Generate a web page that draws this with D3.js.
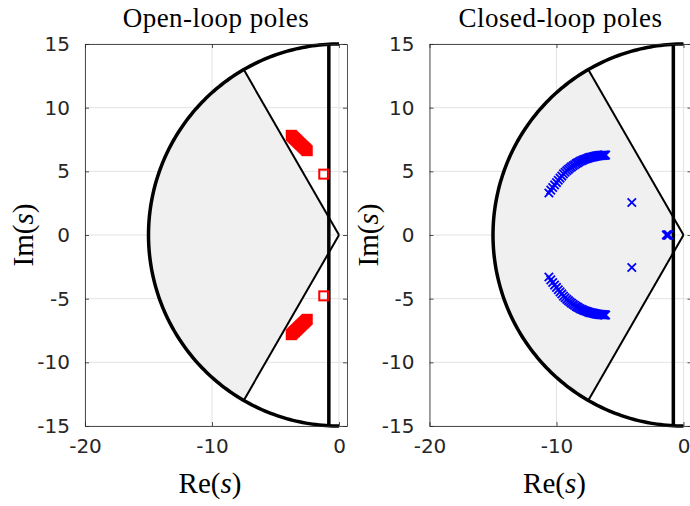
<!DOCTYPE html>
<html>
<head>
<meta charset="utf-8">
<script src="https://cdn.jsdelivr.net/npm/d3@7"></script>
<style>
  body { margin: 0; background: #fff; }
  .tick text { font-family: "DejaVu Sans", sans-serif; font-size: 20px; fill: #262626; }
  .domain, .tick line { stroke: #262626; stroke-width: 0.8; }
</style>
</head>
<body>
<div id="container"></div>
<script>
const xTicks = [-20, -10, 0];
const yTicks = [-15, -10, -5, 0, 5, 10, 15];
const titles = ["Open-loop poles", "Closed-loop poles"];

// poles in the upper half plane, the lower half is drawn as conjugates
const olRe = [-3.76, -3.69, -3.63, -3.56, -3.50, -3.43, -3.36, -3.30, -3.23, -3.17,
              -3.10, -3.03, -2.97, -2.90, -2.83, -2.77, -2.70, -2.63, -2.57, -2.50, -1.20];
const olIm = [7.83, 7.77, 7.70, 7.64, 7.58, 7.51, 7.45, 7.39, 7.32, 7.26,
              7.19, 7.13, 7.07, 7.00, 6.94, 6.88, 6.81, 6.75, 6.68, 6.62, 4.78];

const clRe = [-10.60, -10.45, -10.30, -10.15, -10.00, -9.86, -9.72, -9.58, -9.45, -9.32,
              -9.19, -9.06, -8.94, -8.82, -8.70, -8.58, -8.46, -8.35, -8.24, -8.13,
              -8.02, -7.91, -7.81, -7.71, -7.61, -7.51, -7.42, -7.33, -7.24, -7.15,
              -7.06, -6.98, -6.90, -6.82, -6.75, -6.68, -6.61, -6.54, -6.47, -6.41,
              -6.35, -6.29, -6.23, -6.18, -6.13, -4.07];
const clIm = [3.30, 3.52, 3.73, 3.93, 4.12, 4.30, 4.47, 4.63, 4.80, 4.93,
              5.05, 5.16, 5.26, 5.35, 5.44, 5.52, 5.60, 5.66, 5.73, 5.79,
              5.84, 5.89, 5.93, 5.97, 6.01, 6.04, 6.07, 6.10, 6.12, 6.14,
              6.16, 6.18, 6.19, 6.21, 6.22, 6.23, 6.24, 6.25, 6.25, 6.26,
              6.26, 6.27, 6.27, 6.27, 6.28, 2.55];
const clRealRe = [-1.35, -1.32, -1.29, -1.26, -1.23, -1.20, -1.17];

// design region: |s| < radius, damping > zeta, Re(s) < -sigma
const radius = 15, zeta = 0.5, sigma = 0.8;

const width = 690, height = 506;
const panelW = 262, plotTop = 44, plotBottom = 426;
const lefts = [85, 429.5];

const svg = d3.select("#container").append("svg")
    .attr("width", width)
    .attr("height", height);

function conj(re, im) {
    let pts = [];
    re.forEach((r, i) => {
        pts.push([r, im[i]]);
        if (im[i] !== 0) pts.push([r, -im[i]]);
    });
    return pts;
}

function panel(i) {
    const x = d3.scaleLinear().domain([-20, 0.63]).range([lefts[i], lefts[i] + panelW]);
    const y = d3.scaleLinear().domain([-15, 15]).range([plotBottom, plotTop]);
    const g = svg.append("g");

    // grid
    g.selectAll(".gx").data(xTicks).enter().append("line")
        .attr("x1", d => x(d)).attr("x2", d => x(d))
        .attr("y1", plotTop).attr("y2", plotBottom)
        .attr("stroke", "#e3e3e3").attr("stroke-width", 1);
    g.selectAll(".gy").data(yTicks).enter().append("line")
        .attr("y1", d => y(d)).attr("y2", d => y(d))
        .attr("x1", lefts[i]).attr("x2", lefts[i] + panelW)
        .attr("stroke", "#e3e3e3").attr("stroke-width", 1);

    const phi = Math.acos(zeta);
    const line = d3.line().x(d => x(d[0])).y(d => y(d[1]));
    const arcPts = (a0, a1) => d3.range(a0, a1 + 0.001, 1).map(a => {
        const t = a * Math.PI / 180;
        return [radius * Math.cos(t), radius * Math.sin(t)];
    });

    // shaded region
    const a0 = 180 - phi * 180 / Math.PI, a1 = 180 + phi * 180 / Math.PI;
    const region = [[-sigma, sigma * Math.tan(phi)]]
        .concat(arcPts(a0, a1))
        .concat([[-sigma, -sigma * Math.tan(phi)]]);
    g.append("path").attr("d", line(region) + "Z")
        .attr("fill", "#f0f0f0").attr("stroke", "none");

    // damping lines
    [a0, a1].forEach(a => {
        const t = a * Math.PI / 180;
        g.append("path").attr("d", line([[0, 0], [radius * Math.cos(t), radius * Math.sin(t)]]))
            .attr("stroke", "#000").attr("stroke-width", 2).attr("fill", "none");
    });

    // radius bound and real-part bound
    g.append("path").attr("d", line(arcPts(90, 270)))
        .attr("stroke", "#000").attr("stroke-width", 3.5).attr("fill", "none");
    g.append("path").attr("d", line([[-sigma, -15], [-sigma, 15]]))
        .attr("stroke", "#000").attr("stroke-width", 3.5).attr("fill", "none");

    if (i === 0) {
        g.selectAll(".ol").data(conj(olRe, olIm)).enter().append("rect")
            .attr("x", d => x(d[0]) - 4.5).attr("y", d => y(d[1]) - 4.5)
            .attr("width", 9).attr("height", 9)
            .attr("fill", "none").attr("stroke", "#ff0000").attr("stroke-width", 2);
    } else {
        const pts = conj(clRe, clIm).concat(clRealRe.map(r => [r, 0]));
        g.selectAll(".cl").data(pts).enter().append("path")
            .attr("transform", d => `translate(${x(d[0])},${y(d[1])})`)
            .attr("d", "M-4.2,-4.2L4.2,4.2M-4.2,4.2L4.2,-4.2")
            .attr("fill", "none").attr("stroke", "#0000ff").attr("stroke-width", 1.8);
    }

    // axes, ticks inward on all four sides
    g.append("g").attr("transform", `translate(0,${plotBottom})`)
        .call(d3.axisBottom(x).tickValues(xTicks).tickSizeInner(-4).tickSizeOuter(0).tickPadding(13));
    g.append("g").attr("transform", `translate(0,${plotTop})`)
        .call(d3.axisTop(x).tickValues(xTicks).tickSizeInner(-4).tickSizeOuter(0).tickFormat(""));
    g.append("g").attr("transform", `translate(${lefts[i]},0)`)
        .call(d3.axisLeft(y).tickValues(yTicks).tickSizeInner(-4).tickSizeOuter(0).tickPadding(15));
    g.append("g").attr("transform", `translate(${lefts[i] + panelW},0)`)
        .call(d3.axisRight(y).tickValues(yTicks).tickSizeInner(-4).tickSizeOuter(0).tickFormat(""));
    g.selectAll(".tick text").text(function () { return this.textContent.replace("−", "-"); });

    const cx = lefts[i] + panelW / 2;
    g.append("text").attr("x", cx).attr("y", 27)
        .attr("text-anchor", "middle")
        .style("font-family", "'Liberation Serif', serif").style("font-size", "27px")
        .style("letter-spacing", "0.5px")
        .text(titles[i]);

    const xl = g.append("text").attr("x", cx - 6).attr("y", 493)
        .attr("text-anchor", "middle")
        .style("font-family", "'Liberation Serif', serif").style("font-size", "29px");
    xl.append("tspan").text("Re(");
    xl.append("tspan").style("font-style", "italic").text("s");
    xl.append("tspan").text(")");

    const yl = g.append("text")
        .attr("transform", `translate(${lefts[i] - 52},235) rotate(-90)`)
        .attr("text-anchor", "middle")
        .style("font-family", "'Liberation Serif', serif").style("font-size", "29px");
    yl.append("tspan").text("Im(");
    yl.append("tspan").style("font-style", "italic").text("s");
    yl.append("tspan").text(")");
}

panel(0);
panel(1);
</script>
</body>
</html>
